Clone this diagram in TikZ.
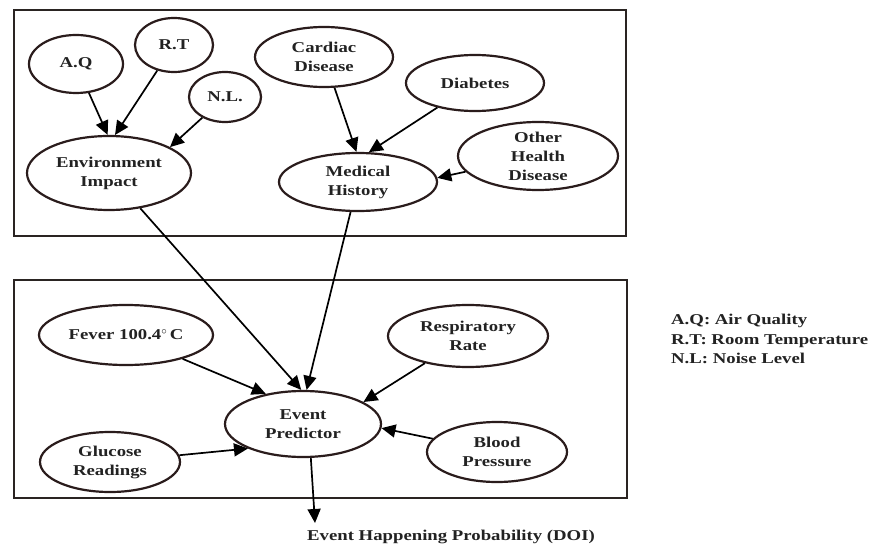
\documentclass[tikz,border=0pt]{standalone}
\usepackage{fontspec}
\setmainfont{Liberation Serif}[FakeStretch=1.25]
\usetikzlibrary{shapes.geometric,arrows.meta}
\definecolor{ellc}{HTML}{2A1C1C}
\definecolor{boxc}{HTML}{2A2422}
\definecolor{txtc}{HTML}{222222}
\begin{document}
\begin{tikzpicture}[x=1pt,y=-1pt,
  ell/.style={draw=ellc, line width=2.2pt, ellipse, inner sep=-14pt, align=center,
    font=\fontsize{15}{19}\selectfont\bfseries, text=txtc},
  framebox/.style={draw=boxc, line width=2.5pt},
  arr/.style={-{Triangle[length=14pt,width=13pt]}, line width=1.7pt, draw=black},
  plain/.style={font=\fontsize{15}{19.5}\selectfont\bfseries, text=txtc, inner sep=0pt}
]
\useasboundingbox (0,0) rectangle (877,545);
\fill[white] (0,0) rectangle (877,545);

% frames
\draw[framebox] (14,10) rectangle (626,236);
\draw[framebox] (14,280) rectangle (627,498);

% top nodes
\node[ell, minimum width=94pt, minimum height=58pt] (aq) at (76,64) {A.Q};
\node[ell, minimum width=78pt, minimum height=54pt] (rt) at (174,45) {R.T};
\node[ell, minimum width=72pt, minimum height=50pt] (nl) at (225,97) {N.L.};
\node[ell, minimum width=164pt, minimum height=74pt] (ei) at (109,173) {Environment\\Impact};
\node[ell, minimum width=138pt, minimum height=60pt] (cd) at (324,57) {Cardiac\\Disease};
\node[ell, minimum width=138pt, minimum height=56pt] (db) at (475,83) {Diabetes};
\node[ell, minimum width=160pt, minimum height=68pt] (oh) at (538,156) {Other\\Health\\Disease};
\node[ell, minimum width=158pt, minimum height=58pt] (mh) at (358,182) {Medical\\History};

% bottom nodes
\node[ell, minimum width=174pt, minimum height=60pt] (fv) at (126,335) {Fever 100.4$^{\circ}$\,C};
\node[ell, minimum width=140pt, minimum height=60pt] (gl) at (110,462) {Glucose\\Readings};
\node[ell, minimum width=156pt, minimum height=66pt] (ep) at (303,424) {Event\\Predictor};
\node[ell, minimum width=160pt, minimum height=62pt] (rr) at (468,336) {Respiratory\\Rate};
\node[ell, minimum width=140pt, minimum height=60pt] (bp) at (497,452) {Blood\\Pressure};

% output and legend
\node[plain] (out) at (451,537) {Event Happening Probability (DOI)};
\coordinate (otip) at (315,523);
\node[plain, anchor=west, align=left] (legend) at (671,339)
  {A.Q: Air Quality\\R.T: Room Temperature\\N.L: Noise Level};

% edges
\draw[arr] (aq) -- (ei.92);
\draw[arr] (rt) -- (ei.81);
\draw[arr] (nl) -- (ei.23);
\draw[arr] (cd) -- (mh.93);
\draw[arr] (db) -- (mh.70);
\draw[arr] (oh) -- (mh.3);
\draw[arr] (ei) -- (ep.93);
\draw[arr] (mh) -- (ep.84);
\draw[arr] (fv) -- (ep.141);
\draw[arr] (gl) -- (ep.204);
\draw[arr] (rr) -- (ep.20);
\draw[arr] (bp) -- (ep.-3);
\draw[arr] (ep.-77) -- (otip);
\end{tikzpicture}
\end{document}
